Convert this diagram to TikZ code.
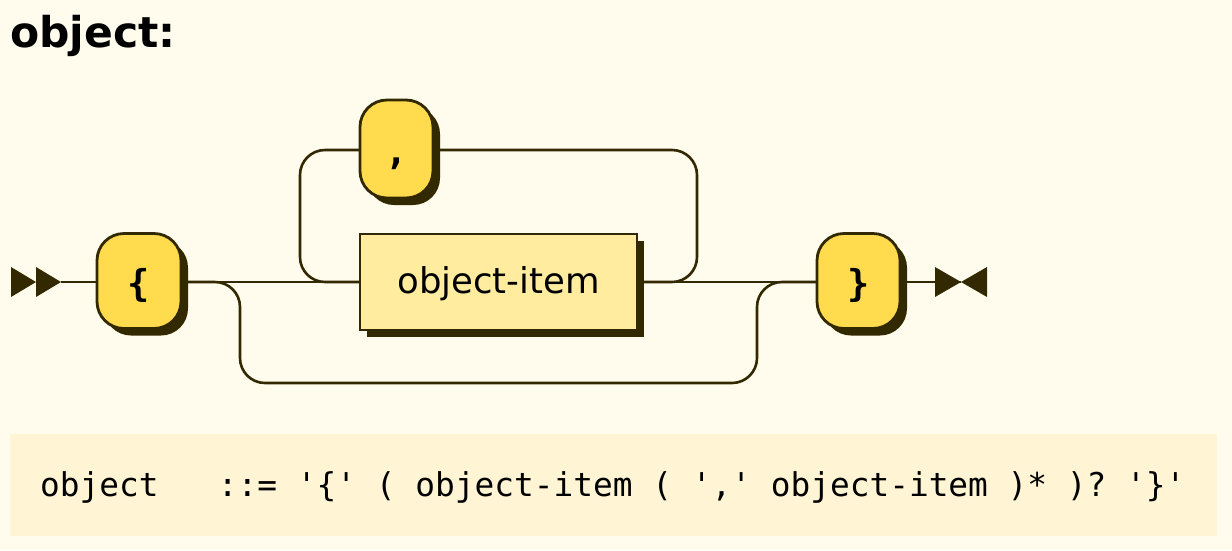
\documentclass[tikz,border=0pt]{standalone}
\usepackage{fontspec}
\setmainfont{DejaVu Sans}
\setmonofont{DejaVu Sans Mono}
\usetikzlibrary{shadows}
\definecolor{bgc}{HTML}{FFFCEE}
\definecolor{ink}{HTML}{332900}
\definecolor{termfill}{HTML}{FFDB4D}
\definecolor{ntfill}{HTML}{FFEC9E}
\definecolor{codebg}{HTML}{FFF5D5}
\tikzset{
  conn/.style={draw=ink, line width=2.6pt},
  tri/.style={fill=ink},
  shade/.style={general shadow={fill=ink, shadow xshift=7pt, shadow yshift=-7pt}},
  term/.style={shade, draw=ink, fill=termfill, line width=2.8pt, rounded corners=27pt,
    inner sep=0pt, text height=30pt, text depth=0pt, text=black,
    font=\fontsize{37}{40}\selectfont\ttfamily\bfseries},
  nonterm/.style={shade, draw=ink, fill=ntfill, line width=2.8pt,
    inner sep=0pt, text height=22pt, text depth=0pt, text=black,
    font=\fontsize{35.5}{40}\selectfont},
}
\begin{document}
\begin{tikzpicture}[x=1pt, y=-1pt]
\fill[bgc] (0,0) rectangle (1232,550);
\useasboundingbox (0,0) rectangle (1232,550);
% title
\node[anchor=base west, inner sep=0pt, font=\fontsize{42.5}{44}\selectfont\bfseries, text=black] (title) at (10,47) {object:};
% connectors (behind nodes)
\coordinate (s) at (61,282);
\coordinate (e) at (961,282);
\coordinate (lbE) at (181,282);
\coordinate (itW) at (360,282);
\coordinate (itE) at (637,282);
\coordinate (rbW) at (817,282);
\coordinate (rbE) at (900,282);
\coordinate (cmW) at (360,150);
\coordinate (cmE) at (433,150);
\draw[conn] (s) -- (139,282);
\draw[conn] (lbE) -- (itW);
\draw[conn] (itE) -- (rbW);
\draw[conn] (rbE) -- (e);
\draw[conn, rounded corners=25pt] (lbE) -- (240,282) -- (240,383) -- (757,383) -- (757,282) -- (rbW);
\draw[conn, rounded corners=25pt] (itE) -- (697,282) -- (697,150) -- (cmE);
\draw[conn, rounded corners=25pt] (cmW) -- (300,150) -- (300,282) -- (itW);
% start / end markers
\fill[tri] (11,267) -- (36,282) -- (11,297) -- cycle;
\fill[tri] (36,267) -- (s) -- (36,297) -- cycle;
\fill[tri] (935,267) -- (e) -- (935,297) -- cycle;
\fill[tri] (987,267) -- (e) -- (987,297) -- cycle;
% nodes
\node[term, minimum width=84pt, minimum height=95pt] (lb) at (139,281) {\{};
\node[term, minimum width=73pt, minimum height=98pt] (cm) at (396.5,149) {,};
\node[nonterm, minimum width=277pt, minimum height=96pt] (it) at (498.5,282) {object-item};
\node[term, minimum width=83pt, minimum height=95pt] (rb) at (858.5,281) {\}};
% code box
\fill[codebg] (10,434) rectangle (1217,536);
\node[anchor=base west, inner sep=0pt, text=black, font=\fontsize{32.8}{36}\selectfont\ttfamily] (code) at (40,496)
  {object\ \ \ ::= '\{' ( object-item ( ',' object-item )* )? '\}'};
\end{tikzpicture}
\end{document}
